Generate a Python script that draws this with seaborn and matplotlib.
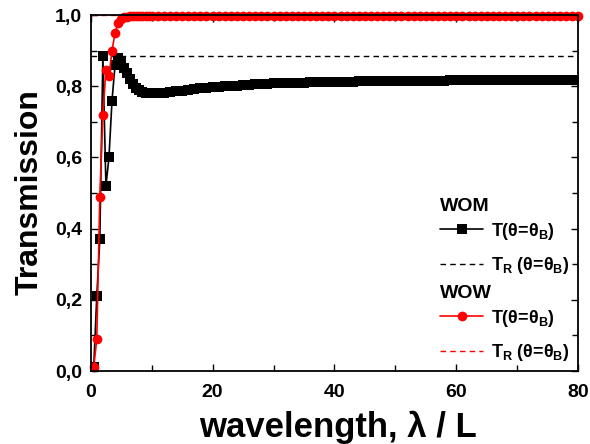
import numpy as np
import pandas as pd
import matplotlib
matplotlib.use('Agg')
import matplotlib.pyplot as plt
import seaborn as sns
from matplotlib.ticker import FuncFormatter, MultipleLocator

# wavelength grid (lambda / L) and transmission
wl_head = [0.5, 1.0, 1.5, 2.0, 2.5, 3.0, 3.5, 4.0, 4.5, 5.0, 5.5, 6.0, 6.5, 7.0, 7.5, 8.0, 8.5, 9.0, 9.5]
wl_tail = list(range(10, 81))
wavelength = wl_head + wl_tail

# WOM : T(theta = theta_B)
t_wom_head = [0.01, 0.21, 0.37, 0.885, 0.52, 0.60, 0.76, 0.86, 0.88, 0.868, 0.852, 0.836, 0.82, 0.806,
              0.796, 0.789, 0.784, 0.781, 0.780]
t_wom_tail = [0.780, 0.781, 0.782, 0.784, 0.786, 0.788, 0.790, 0.792, 0.794, 0.796, 0.797,
              0.799, 0.800, 0.801, 0.802, 0.803, 0.804, 0.805, 0.806, 0.807, 0.808,
              0.808, 0.809, 0.809, 0.810, 0.810, 0.811, 0.811, 0.812, 0.812, 0.812,
              0.813, 0.813, 0.813, 0.814, 0.814, 0.814, 0.814, 0.815, 0.815, 0.815,
              0.815, 0.815, 0.816, 0.816, 0.816, 0.816, 0.816, 0.816, 0.817, 0.817,
              0.817, 0.817, 0.817, 0.817, 0.817, 0.818, 0.818, 0.818, 0.818, 0.818,
              0.818, 0.818, 0.818, 0.818, 0.819, 0.819, 0.819, 0.819, 0.819, 0.819]
t_wom = t_wom_head + t_wom_tail

# WOW : T(theta = theta_B)
t_wow_head = [0.01, 0.09, 0.49, 0.72, 0.845, 0.83, 0.90, 0.95, 0.978, 0.99, 0.994, 0.996, 0.997, 0.997,
              0.997, 0.997, 0.997, 0.997, 0.997]
t_wow_tail = [0.997, 0.997, 0.997, 0.997, 0.997, 0.997, 0.997, 0.997, 0.997, 0.997,
              0.997, 0.997, 0.997, 0.997, 0.997, 0.997, 0.997, 0.997, 0.997, 0.997,
              0.997, 0.997, 0.997, 0.997, 0.997, 0.997, 0.997, 0.997, 0.997, 0.997,
              0.997, 0.997, 0.997, 0.997, 0.997, 0.997, 0.997, 0.997, 0.997, 0.997,
              0.997, 0.997, 0.997, 0.997, 0.997, 0.997, 0.997, 0.997, 0.997, 0.997,
              0.997, 0.997, 0.997, 0.997, 0.997, 0.997, 0.997, 0.997, 0.997, 0.997,
              0.997, 0.997, 0.997, 0.997, 0.997, 0.997, 0.997, 0.997, 0.997, 0.997, 0.997]
t_wow = t_wow_head + t_wow_tail

# reference levels T_R(theta = theta_B)
tr_wom = 0.886
tr_wow = 1.0

sns.set_style('ticks')
plt.rcParams['font.family'] = ['Liberation Sans', 'DejaVu Sans']
plt.rcParams['font.weight'] = 'bold'
plt.rcParams['mathtext.fontset'] = 'custom'
plt.rcParams['mathtext.rm'] = 'Liberation Sans'
plt.rcParams['mathtext.bf'] = 'Liberation Sans:bold'
plt.rcParams['mathtext.it'] = 'Liberation Sans:italic'
for key in ['text.color', 'axes.labelcolor', 'xtick.color', 'ytick.color', 'axes.edgecolor']:
    plt.rcParams[key] = 'black'

df = pd.DataFrame({'wavelength': wavelength, 'WOM': t_wom, 'WOW': t_wow})

fig = plt.figure(figsize=(5.9, 4.44), dpi=100)
ax = fig.add_axes([0.1537, 0.1644, 0.98 - 0.1537, 0.966 - 0.1644])

sns.lineplot(data=df, x='wavelength', y='WOM', ax=ax, color='black', marker='s',
             markersize=7, markeredgewidth=0, linewidth=1.2)
h_wom = ax.lines[-1]
h_wom_r = ax.axhline(tr_wom, color='black', linestyle='--', linewidth=1.0, dashes=(4, 3), zorder=1)
sns.lineplot(data=df, x='wavelength', y='WOW', ax=ax, color='#ff0000', marker='o',
             markersize=7, markeredgewidth=0, linewidth=1.2)
h_wow = ax.lines[-1]
h_wow.set_clip_on(False)
h_wow_r = ax.axhline(tr_wow, color='#ff0000', linestyle='--', linewidth=1.0, dashes=(4, 3), zorder=1)

ax.set_xlim(0, 80)
ax.set_ylim(0, 1.0)
ax.xaxis.set_major_locator(MultipleLocator(20))
ax.xaxis.set_minor_locator(MultipleLocator(10))
ax.yaxis.set_major_locator(MultipleLocator(0.2))
ax.yaxis.set_minor_locator(MultipleLocator(0.1))
ax.yaxis.set_major_formatter(FuncFormatter(lambda v, p: f'{v:.1f}'.replace('.', ',')))
ax.tick_params(which='both', direction='in', top=True, right=True, labelsize=14, width=1.0,
               color='black', labelcolor='black')
ax.tick_params(which='major', length=5)
ax.tick_params(which='minor', length=4)
ax.tick_params(axis='x', pad=9)
ax.tick_params(axis='y', pad=6)
for lab in ax.get_xticklabels() + ax.get_yticklabels():
    lab.set_fontweight('bold')
for sp in ax.spines.values():
    sp.set_linewidth(1.3)
    sp.set_color('black')

ax.set_xlabel('wavelength, λ / L', fontsize=25, fontweight='bold', color='black')
ax.set_ylabel('Transmission', fontsize=23, fontweight='bold', color='black')
ax.xaxis.set_label_coords(0.508, -0.112)
ax.yaxis.set_label_coords(-0.095, 0.503)

lab_t = r'T($\mathrm{\theta}$=$\mathrm{\theta}_\mathbf{B}$)'
lab_tr = r'T$_\mathbf{R}$ ($\mathrm{\theta}$=$\mathrm{\theta}_\mathbf{B}$)'
leg_kw = dict(frameon=False, fontsize=13, handlelength=2.4, handletextpad=0.4,
              labelspacing=0.75, borderpad=0, borderaxespad=0, loc='upper left',
              title_fontproperties={'weight': 'bold', 'size': 14})
leg1 = ax.legend([h_wom, h_wom_r], [lab_t, lab_tr], title='WOM',
                 bbox_to_anchor=(440 / 590, (444 - 198) / 444), bbox_transform=fig.transFigure, **leg_kw)
leg1._legend_box.align = 'left'
leg1._legend_box.sep = 4
ax.add_artist(leg1)
leg2 = ax.legend([h_wow, h_wow_r], [lab_t, lab_tr], title='WOW',
                 bbox_to_anchor=(440 / 590, (444 - 285) / 444), bbox_transform=fig.transFigure, **leg_kw)
leg2._legend_box.align = 'left'
leg2._legend_box.sep = 4

fig.savefig('out.png', dpi=100, facecolor='white')
